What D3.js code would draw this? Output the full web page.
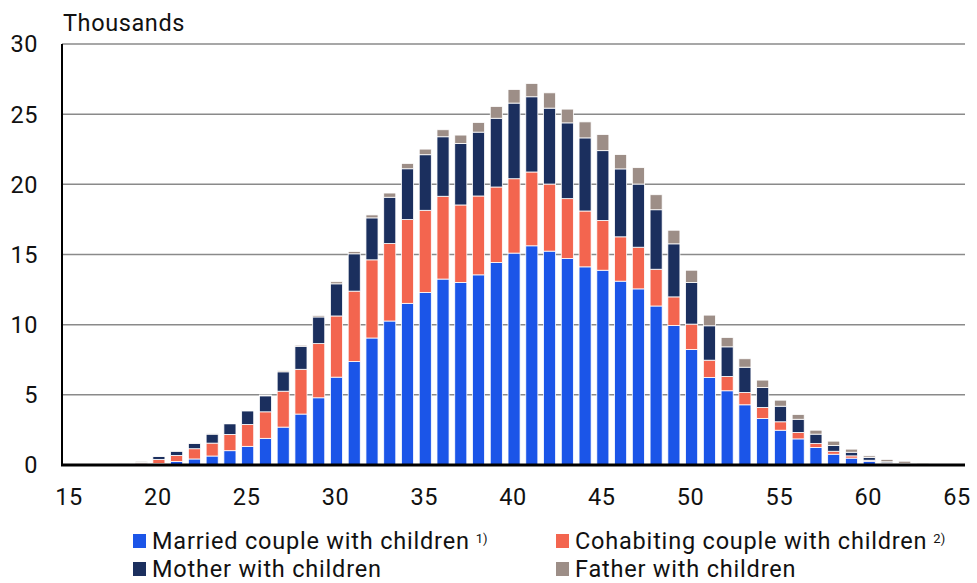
<!DOCTYPE html>
<html>
<head>
<meta charset="utf-8">
<script src="https://cdn.jsdelivr.net/npm/d3@7"></script>
<style>
  body { margin: 0; background: #fff; }
  svg { font-family: Roboto, "Noto Sans", sans-serif; }
  svg text { letter-spacing: 0.6px; }
  svg text.legend-label { letter-spacing: 0.8px; }
</style>
</head>
<body>
<div id="chart"></div>
<script>
/* DATA (thousands, by age) */
const ages = d3.range(18, 64);
const married = [0.02, 0.03, 0.1, 0.25, 0.43, 0.64, 1.02, 1.33, 1.9, 2.7, 3.63, 4.79,
  6.26, 7.37, 9.05, 10.26, 11.52, 12.3, 13.25, 13.01, 13.55, 14.43,
  15.1, 15.62, 15.24, 14.71, 14.12, 13.88, 13.1, 12.55, 11.33, 9.94,
  8.23, 6.24, 5.29, 4.29, 3.31, 2.48, 1.86, 1.25, 0.77, 0.49,
  0.27, 0.12, 0.05, 0.02];
const cohabiting = [0.02, 0.1, 0.3, 0.43, 0.73, 0.92, 1.16, 1.56, 1.89, 2.56, 3.19, 3.86,
  4.36, 5.02, 5.57, 5.52, 5.97, 5.85, 5.9, 5.52, 5.62, 5.38,
  5.3, 5.26, 4.78, 4.27, 3.98, 3.55, 3.16, 2.97, 2.62, 2.04,
  1.81, 1.23, 1.02, 0.88, 0.79, 0.6, 0.46, 0.28, 0.21, 0.16,
  0.07, 0.03, 0.02, 0.01];
const mother = [0.02, 0.05, 0.2, 0.3, 0.38, 0.64, 0.76, 0.97, 1.14, 1.38, 1.64, 1.9,
  2.29, 2.66, 2.99, 3.3, 3.62, 3.96, 4.24, 4.38, 4.55, 4.9,
  5.39, 5.36, 5.41, 5.4, 5.21, 4.97, 4.84, 4.5, 4.24, 3.78,
  2.96, 2.45, 2.11, 1.8, 1.42, 1.11, 0.94, 0.67, 0.41, 0.26,
  0.19, 0.08, 0.05, 0.03];
const father = [0.02, 0.08, 0.02, 0.02, 0.03, 0.03, 0.04, 0.05, 0.06, 0.08, 0.08, 0.11,
  0.15, 0.16, 0.21, 0.3, 0.38, 0.4, 0.5, 0.6, 0.69, 0.84,
  0.97, 0.95, 1.09, 0.98, 1.14, 1.15, 1.02, 1.17, 1.07, 0.97,
  0.88, 0.76, 0.67, 0.6, 0.53, 0.43, 0.34, 0.28, 0.31, 0.22,
  0.12, 0.17, 0.15, 0.07];

const seriesNames = ["Married couple with children", "Cohabiting couple with children",
  "Mother with children", "Father with children"];
const seriesNotes = ["1)", "2)", "", ""];
const seriesKeys = ["married", "cohabiting", "mother", "father"];
const colors = ["#1b55e8", "#f3654f", "#1b2f5e", "#9d8e87"];
const yTicks = [0, 5, 10, 15, 20, 25, 30];
const xTicks = [15, 20, 25, 30, 35, 40, 45, 50, 55, 60, 65];

/* CONSTANTS */
const width = 977, height = 583;
const margin = {top: 44, bottom: 118, left: 62, right: 12};

const table = ages.map((a, i) => ({
  age: a, married: married[i], cohabiting: cohabiting[i], mother: mother[i], father: father[i]
}));

/* SCALES */
const xScale = d3.scaleLinear()
  .domain([14.6, 65.45])
  .range([margin.left, width - margin.right]);

const yScale = d3.scaleLinear()
  .domain([0, 30])
  .range([height - margin.bottom, margin.top]);

const colorScale = d3.scaleOrdinal().domain(seriesKeys).range(colors);

const barW = (xScale(1) - xScale(0)) * 0.68;

/* ELEMENTS */
const svg = d3.select("#chart").append("svg")
  .attr("width", width)
  .attr("height", height);

// grid lines
svg.append("g")
  .selectAll("line.grid")
  .data(yTicks.filter(d => d > 0))
  .join("line")
    .attr("class", "grid")
    .attr("x1", margin.left)
    .attr("x2", width - margin.right)
    .attr("y1", d => yScale(d))
    .attr("y2", d => yScale(d))
    .style("stroke", "#8a8a8a")
    .style("stroke-width", 1.5);

// y labels
svg.append("g")
  .selectAll("text")
  .data(yTicks)
  .join("text")
    .attr("x", 38)
    .attr("y", d => yScale(d))
    .attr("dy", "0.36em")
    .attr("text-anchor", "end")
    .attr("font-size", "23.5px")
    .attr("fill", "#111")
    .text(d => d);

svg.append("text")
  .attr("x", 63)
  .attr("y", 31)
  .attr("font-size", "23.5px")
  .attr("fill", "#111")
  .text("Thousands");

// stacked bars
const stacked = d3.stack().keys(seriesKeys)(table);

svg.append("g")
  .selectAll("g.layer")
  .data(stacked)
  .join("g")
    .attr("class", "layer")
    .attr("fill", d => colorScale(d.key))
  .selectAll("rect")
  .data(d => d)
  .join("rect")
    .attr("x", d => xScale(d.data.age) + 1 - barW / 2)
    .attr("width", barW)
    .attr("y", d => yScale(d[1]))
    .attr("height", d => Math.max(0, yScale(d[0]) - yScale(d[1])))
    .attr("stroke", "#fff")
    .attr("stroke-width", 0.8);

// axes lines
svg.append("line")
  .attr("x1", margin.left)
  .attr("x2", margin.left)
  .attr("y1", yScale(30))
  .attr("y2", yScale(0))
  .style("stroke", "#000")
  .style("stroke-width", 2);

svg.append("line")
  .attr("x1", margin.left - 1)
  .attr("x2", width - margin.right)
  .attr("y1", yScale(0))
  .attr("y2", yScale(0))
  .style("stroke", "#000")
  .style("stroke-width", 3);

// x labels
svg.append("g")
  .selectAll("text")
  .data(xTicks)
  .join("text")
    .attr("x", d => xScale(d))
    .attr("y", 505)
    .attr("text-anchor", "middle")
    .attr("font-size", "23.5px")
    .attr("fill", "#111")
    .text(d => d);

// legend
const legendPos = [[133, 541], [556, 541], [133, 569], [556, 569]];
const legend = svg.append("g")
  .selectAll("g.item")
  .data(seriesNames)
  .join("g")
    .attr("class", "item")
    .attr("transform", (d, i) => `translate(${legendPos[i][0]},${legendPos[i][1]})`);

legend.append("rect")
  .attr("x", 0)
  .attr("y", -7)
  .attr("width", 13)
  .attr("height", 14)
  .attr("fill", (d, i) => colors[i]);

const ltext = legend.append("text")
  .attr("class", "legend-label")
  .attr("x", 19)
  .attr("dy", "0.36em")
  .attr("font-size", "23.5px")
  .attr("fill", "#111")
  .text(d => d);

ltext.append("tspan")
  .attr("dx", 6)
  .attr("dy", "-0.5em")
  .attr("font-size", "13px")
  .style("letter-spacing", "0px")
  .text((d, i) => seriesNotes[i]);
</script>
</body>
</html>
